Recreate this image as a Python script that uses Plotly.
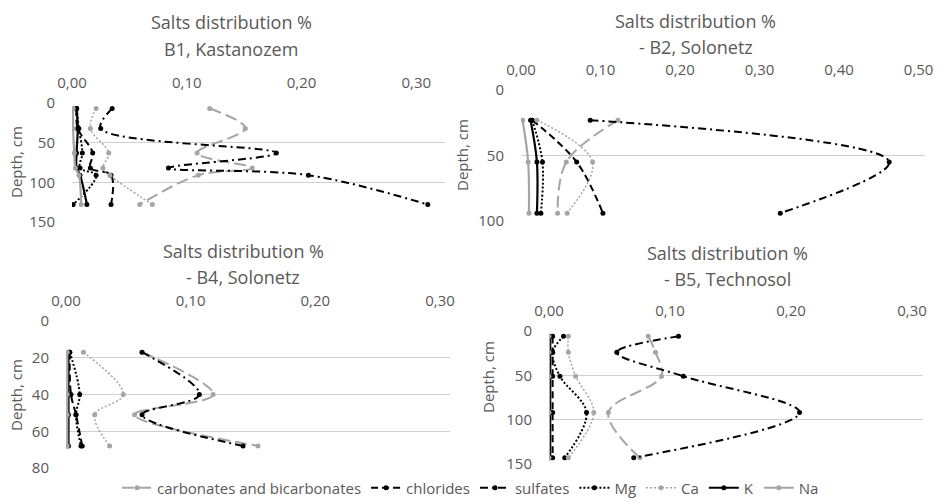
import plotly.graph_objects as go

W, H = 941, 502

# ---------------- data ----------------
series_names = ["carbonates and bicarbonates", "chlorides", "sulfates", "Mg", "Ca", "K", "Na"]

# B1, Kastanozem
b1_depth = [7, 32, 63, 82, 91, 128]
b1_carb = [0.120, 0.151, 0.109, 0.157, 0.110, 0.059]
b1_chl = [0.004, 0.005, 0.018, 0.016, 0.034, 0.034]
b1_sulf = [0.035, 0.025, 0.178, 0.084, 0.206, 0.310]
b1_mg = [0.004, 0.006, 0.009, 0.007, 0.021, 0.001]
b1_ca = [0.021, 0.016, 0.032, 0.027, 0.033, 0.070]
b1_k = [0.004, 0.005, 0.004, 0.004, 0.007, 0.013]
b1_na = [0.001, 0.001, 0.002, 0.003, 0.006, 0.008]

# B2, Solonetz
b2_depth = [23, 55, 94]
b2_carb = [0.122, 0.057, 0.046]
b2_chl = [0.014, 0.070, 0.103]
b2_sulf = [0.087, 0.463, 0.326]
b2_mg = [0.014, 0.027, 0.025]
b2_ca = [0.020, 0.090, 0.058]
b2_k = [0.012, 0.020, 0.020]
b2_na = [0.002, 0.009, 0.010]

# B4, Solonetz
b4_depth = [17, 40, 51, 68]
b4_carb = [0.061, 0.118, 0.055, 0.154]
b4_chl = [0.003, 0.004, 0.008, 0.013]
b4_sulf = [0.061, 0.107, 0.061, 0.142]
b4_mg = [0.003, 0.011, 0.008, 0.012]
b4_ca = [0.014, 0.046, 0.023, 0.035]
b4_k = [0.002, 0.002, 0.002, 0.002]
b4_na = [0.001, 0.001, 0.001, 0.001]

# B5, Technosol
b5_depth = [6, 24, 51, 92, 143]
b5_carb = [0.082, 0.088, 0.093, 0.049, 0.075]
b5_chl = [0.003, 0.003, 0.003, 0.003, 0.003]
b5_sulf = [0.107, 0.056, 0.111, 0.207, 0.070]
b5_mg = [0.012, 0.003, 0.009, 0.031, 0.013]
b5_ca = [0.016, 0.016, 0.022, 0.037, 0.016]
b5_k = [0.001, 0.001, 0.001, 0.001, 0.001]
b5_na = [0.000, 0.000, 0.000, 0.000, 0.000]

x_ticks = [0.0, 0.1, 0.2, 0.3, 0.4, 0.5]

# ---------------- styling ----------------
BLACK = "#000000"
GRAY = "#a5a5a5"
TXT = "#595959"
FONT = "Open Sans"

styles = {
    "carbonates and bicarbonates": dict(color=GRAY, dash="12px,5px", width=2),
    "chlorides": dict(color=BLACK, dash="7px,4px", width=2),
    "sulfates": dict(color=BLACK, dash="8px,4px,2px,4px", width=2),
    "Mg": dict(color=BLACK, dash="2px,2px", width=2),
    "Ca": dict(color=GRAY, dash="2px,2px", width=1.5),
    "K": dict(color=BLACK, dash="solid", width=2.2),
    "Na": dict(color=GRAY, dash="solid", width=2.2),
}

panels = [
    dict(depth=b1_depth, vals=[b1_carb, b1_chl, b1_sulf, b1_mg, b1_ca, b1_k, b1_na],
         px=(72, 445), py=(103, 222), xr=[0, 0.325], yr=[150, 0], ydt=50,
         title1=("Salts distribution %", 231, 22), title2=("B1, Kastanozem", 231, 49),
         ytitle=(16, 162)),
    dict(depth=b2_depth, vals=[b2_carb, b2_chl, b2_sulf, b2_mg, b2_ca, b2_k, b2_na],
         px=(521, 925), py=(90, 221), xr=[0, 0.508], yr=[100, 0], ydt=50,
         title1=("Salts distribution %", 695, 21), title2=("- B2, Solonetz", 696, 47),
         ytitle=(462, 155)),
    dict(depth=b4_depth, vals=[b4_carb, b4_chl, b4_sulf, b4_mg, b4_ca, b4_k, b4_na],
         px=(66, 450), py=(321, 468), xr=[0, 0.308], yr=[80, 0], ydt=20,
         title1=("Salts distribution %", 243, 251), title2=("- B4, Solonetz", 243, 277),
         ytitle=(16, 395)),
    dict(depth=b5_depth, vals=[b5_carb, b5_chl, b5_sulf, b5_mg, b5_ca, b5_k, b5_na],
         px=(549, 923), py=(331, 464), xr=[0, 0.309], yr=[150, 0], ydt=50,
         title1=("Salts distribution %", 727, 253), title2=("- B5, Technosol", 727, 279),
         ytitle=(488, 377)),
]

fig = go.Figure()
annotations = []
layout = {}

for i, p in enumerate(panels):
    n = "" if i == 0 else str(i + 1)
    xa, ya = "x" + n, "y" + n
    for k, name in enumerate(series_names):
        st = styles[name]
        fig.add_trace(go.Scatter(
            x=p["vals"][k], y=p["depth"], name=name, mode="lines+markers",
            xaxis=xa, yaxis=ya, showlegend=(i == 0), legendgroup=name,
            line=dict(color=st["color"], dash=st["dash"], width=st["width"],
                      shape="spline", smoothing=1.0),
            marker=dict(color=st["color"], size=5),
        ))
    layout["xaxis" + n] = dict(
        domain=[p["px"][0] / W, p["px"][1] / W], anchor=ya, side="top",
        range=p["xr"], tickvals=[t for t in x_ticks if t <= p["xr"][1] + 1e-9],
        tickformat=".2f", showgrid=False, zeroline=False, showline=False,
        ticks="outside", ticklen=8, tickcolor="rgba(0,0,0,0)", automargin=False,
        tickfont=dict(family=FONT, size=15, color=TXT), fixedrange=True,
    )
    layout["yaxis" + n] = dict(
        domain=[1 - p["py"][1] / H, 1 - p["py"][0] / H], anchor=xa,
        range=p["yr"], dtick=p["ydt"], showgrid=True, gridcolor="#d0d0d0", gridwidth=1,
        zeroline=False, showline=False, automargin=False,
        ticks="outside", ticklen=13, tickcolor="rgba(0,0,0,0)",
        tickfont=dict(family=FONT, size=15, color=TXT), fixedrange=True,
    )
    for t in (p["title1"], p["title2"]):
        annotations.append(dict(text=t[0], x=t[1] / W, y=1 - t[2] / H, xref="paper", yref="paper",
                                xanchor="center", yanchor="middle", showarrow=False,
                                font=dict(family=FONT, size=18, color=TXT)))
    annotations.append(dict(text="Depth, cm", x=p["ytitle"][0] / W, y=1 - p["ytitle"][1] / H,
                            xref="paper", yref="paper", xanchor="center", yanchor="middle",
                            textangle=-90, showarrow=False,
                            font=dict(family=FONT, size=15, color=TXT)))

fig.update_layout(
    width=W, height=H, margin=dict(l=0, r=0, t=0, b=0, pad=0, autoexpand=False),
    paper_bgcolor="white", plot_bgcolor="white",
    separators=",.",
    annotations=annotations,
    hovermode=False,
    legend=dict(orientation="h", x=0.5, xanchor="center", y=1 - 488 / H, yanchor="middle",
                font=dict(family=FONT, size=15, color=TXT), itemwidth=30,
                tracegroupgap=0, bgcolor="rgba(0,0,0,0)"),
    **layout,
)

fig.write_html("out.html", config={"displayModeBar": False, "staticPlot": True},
               post_script="document.body.style.margin='0';document.body.style.overflow='hidden';")
